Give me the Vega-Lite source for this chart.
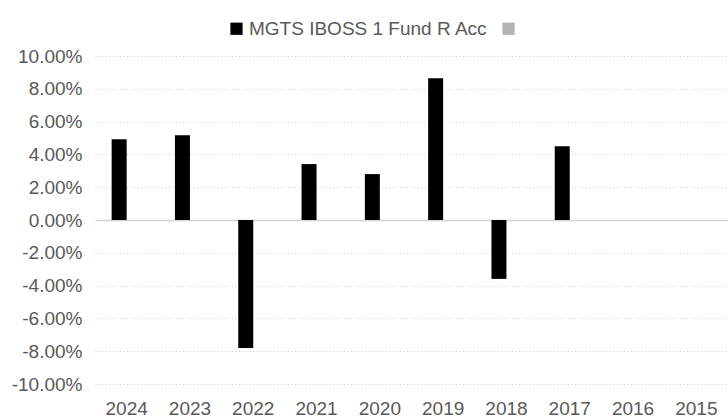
{
  "$schema": "https://vega.github.io/schema/vega-lite/v6.json",
  "width": 633,
  "height": 328,
  "autosize": {"type": "none"},
  "padding": {"left": 95, "top": 56, "right": 0, "bottom": 33},
  "background": "white",
  "config": {"view": {"stroke": null}, "font": "Liberation Sans"},
  "data": {"values": [
    {"year": "2024", "series": "MGTS IBOSS 1 Fund R Acc", "value": 0.0493},
    {"year": "2023", "series": "MGTS IBOSS 1 Fund R Acc", "value": 0.0517},
    {"year": "2022", "series": "MGTS IBOSS 1 Fund R Acc", "value": -0.078},
    {"year": "2021", "series": "MGTS IBOSS 1 Fund R Acc", "value": 0.0341},
    {"year": "2020", "series": "MGTS IBOSS 1 Fund R Acc", "value": 0.028},
    {"year": "2019", "series": "MGTS IBOSS 1 Fund R Acc", "value": 0.0864},
    {"year": "2018", "series": "MGTS IBOSS 1 Fund R Acc", "value": -0.0359},
    {"year": "2017", "series": "MGTS IBOSS 1 Fund R Acc", "value": 0.045},
    {"year": "2016", "series": "MGTS IBOSS 1 Fund R Acc", "value": null},
    {"year": "2015", "series": "MGTS IBOSS 1 Fund R Acc", "value": null}
  ]},
  "mark": {"type": "bar"},
  "encoding": {
    "x": {
      "field": "year", "type": "nominal",
      "sort": ["2024","2023","2022","2021","2020","2019","2018","2017","2016","2015"],
      "scale": {"domain": ["2024","2023","2022","2021","2020","2019","2018","2017","2016","2015"], "paddingInner": 0.526, "paddingOuter": 0.263},
      "axis": {"title": null, "labelAngle": 0, "domain": false, "ticks": false, "labelPadding": 15, "labelFontSize": 19, "labelColor": "#595959"}
    },
    "xOffset": {
      "field": "series", "type": "nominal",
      "scale": {"domain": ["MGTS IBOSS 1 Fund R Acc", ""], "paddingInner": 0, "paddingOuter": 0}
    },
    "y": {
      "field": "value", "type": "quantitative",
      "scale": {"domain": [-0.1, 0.1], "nice": false},
      "axis": {
        "title": null,
        "values": [-0.1,-0.08,-0.06,-0.04,-0.02,0,0.02,0.04,0.06,0.08,0.1],
        "labelExpr": "replace(format(datum.value, '.2%'), '\u2212', '-')",
        "labelOverlap": false, "grid": true, "domain": false, "ticks": false,
        "labelPadding": 13, "labelFontSize": 19, "labelColor": "#595959",
        "gridColor": {"condition": {"test": "datum.value === 0", "value": "#d4d4d4"}, "value": "#cfcfcf"},
        "gridDash": {"condition": {"test": "datum.value === 0", "value": []}, "value": [1, 2.5]},
        "gridWidth": {"condition": {"test": "datum.value === 0", "value": 1.5}, "value": 1}
      }
    },
    "color": {
      "field": "series", "type": "nominal",
      "scale": {"domain": ["MGTS IBOSS 1 Fund R Acc", ""], "range": ["#000000", "#b3b3b3"]},
      "legend": {"title": null, "orient": "none", "legendX": 132, "legendY": -37, "direction": "horizontal", "symbolType": "square", "symbolSize": 150, "symbolStrokeWidth": 0, "labelFontSize": 19, "labelColor": "#595959", "labelLimit": 400, "labelOffset": 3, "columnPadding": 11, "padding": 0}
    }
  }
}
